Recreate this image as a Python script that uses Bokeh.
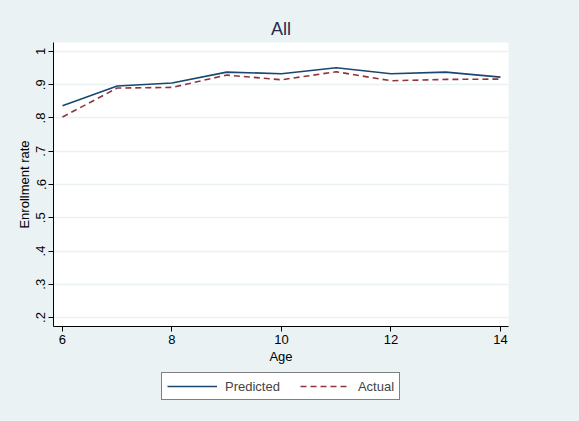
from bokeh.plotting import figure
from bokeh.models import Range1d, FixedTicker, Legend, LegendItem
from bokeh.layouts import column
from bokeh.embed import file_html
from bokeh.resources import INLINE

ages = [6, 7, 8, 9, 10, 11, 12, 13, 14]
predicted = [0.837, 0.896, 0.905, 0.938, 0.933, 0.951, 0.933, 0.938, 0.923]
actual = [0.803, 0.890, 0.892, 0.929, 0.915, 0.939, 0.912, 0.916, 0.917]

x_ticks = [6, 8, 10, 12, 14]
y_ticks = [0.2, 0.3, 0.4, 0.5, 0.6, 0.7, 0.8, 0.9, 1.0]
y_tick_labels = [".2", ".3", ".4", ".5", ".6", ".7", ".8", ".9", "1"]

title_text = "All"
x_label = "Age"
y_label = "Enrollment rate"
series_names = ["Predicted", "Actual"]

BG = "#eaf2f3"
FONT = "Liberation Sans"
C_PRED = "#1a476f"
C_ACT = "#90353b"

p = figure(output_backend="svg", toolbar_location=None,
           x_range=Range1d(5.836, 14.146), y_range=Range1d(0.173, 1.027),
           frame_width=455, frame_height=284)
p.min_border_left = 53
p.min_border_right = 71
p.min_border_top = 42
p.min_border_bottom = 44
p.border_fill_color = BG
p.background_fill_color = "white"
p.outline_line_color = None

p.title.text = title_text
p.title.align = "center"
p.title.text_font = FONT
p.title.text_font_size = "18px"
p.title.text_font_style = "normal"
p.title.text_color = "#1e2d53"
p.title.offset = 0
p.title.standoff = 7

p.xaxis.ticker = FixedTicker(ticks=x_ticks)
p.yaxis.ticker = FixedTicker(ticks=y_ticks)
p.yaxis.major_label_overrides = {t: l for t, l in zip(y_ticks, y_tick_labels)}
p.yaxis.major_label_orientation = "vertical"
p.xaxis.axis_label = x_label
p.yaxis.axis_label = y_label

for ax in (p.xaxis, p.yaxis):
    ax.axis_line_color = "black"
    ax.major_tick_line_color = "black"
    ax.major_tick_out = 5
    ax.major_tick_in = 0
    ax.minor_tick_line_color = None
    ax.major_label_text_font = FONT
    ax.major_label_text_font_size = "13px"
    ax.major_label_text_color = "black"
    ax.axis_label_text_font = FONT
    ax.axis_label_text_font_size = "13px"
    ax.axis_label_text_font_style = "normal"
    ax.axis_label_text_color = "black"
    ax.major_label_standoff = 3
    ax.axis_label_standoff = 2

p.xgrid.grid_line_color = None
p.ygrid.ticker = FixedTicker(ticks=y_ticks)
p.ygrid.grid_line_color = BG
p.ygrid.grid_line_width = 1.5

p.line(ages, predicted, line_color=C_PRED, line_width=1.6)
p.line(ages, actual, line_color=C_ACT, line_width=1.6, line_dash="6 4")

# Legend strip below the graph (own canvas so the box is not clipped)
q = figure(output_backend="svg", toolbar_location=None, width=579, height=51,
           x_range=Range1d(0, 1), y_range=Range1d(0, 1),
           x_axis_location=None, y_axis_location=None, min_border=0)
q.border_fill_color = BG
q.background_fill_color = BG
q.outline_line_color = None
q.grid.grid_line_color = None
# sample renderers drawn outside the visible range: only their legend swatches show
lr1 = q.line(ages, predicted, line_color=C_PRED, line_width=1.6)
lr2 = q.line(ages, actual, line_color=C_ACT, line_width=1.6, line_dash="6 4")

legend = Legend(items=[LegendItem(label=series_names[0], renderers=[lr1]),
                       LegendItem(label=series_names[1], renderers=[lr2])],
                orientation="horizontal", location=(108, 21))
legend.border_line_color = "black"
legend.border_line_width = 1
legend.background_fill_color = "white"
legend.background_fill_alpha = 1
legend.label_text_font = FONT
legend.label_text_font_size = "13px"
legend.glyph_width = 50
legend.glyph_height = 16
legend.label_height = 16
legend.label_standoff = 8
legend.spacing = 20
legend.padding = 5
legend.margin = 0
legend.click_policy = "none"
q.add_layout(legend, "center")

layout = column(p, q, spacing=0, styles={"background-color": BG})
open("out.html", "w").write(file_html(layout, INLINE))
